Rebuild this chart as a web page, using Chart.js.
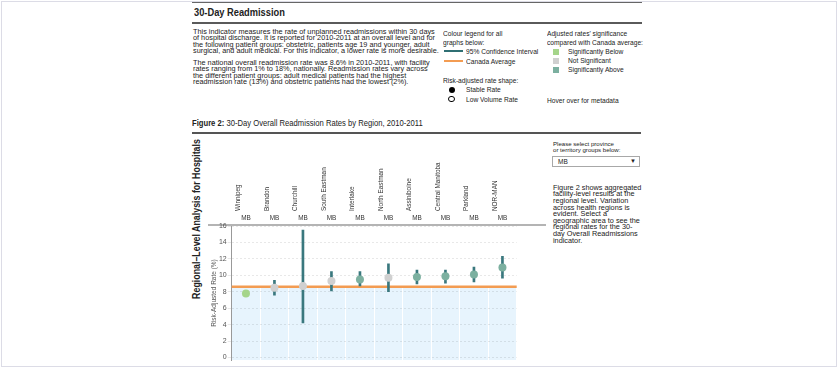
<!DOCTYPE html>
<html>
<head>
<meta charset="utf-8">
<script src="https://cdn.jsdelivr.net/npm/chart.js@4/dist/chart.umd.min.js"></script>
<style>
	html, body { margin: 0; padding: 0; background: #fff; }
	body { width: 838px; height: 368px; position: relative; overflow: hidden;
		font-family: "Liberation Sans", Arial, sans-serif; color: #222; }
	.abs { position: absolute; white-space: pre; }
	/* no Arial Narrow here, so squeeze Liberation Sans instead */
	.narrow { transform: scaleX(0.83); transform-origin: left top; }
	.rule { position: absolute; }
	.body { font-size: 7.3px; line-height: 6.45px; }
	.leg { font-size: 8px; line-height: 9.2px; }
	.swatch { position: absolute; width: 6px; height: 6px; }
	#chartBox { position: absolute; left: 200px; top: 130px; width: 345px; height: 236px; }
</style>
</head>
<body>

<div class="rule" style="left:1px;top:1px;width:834px;height:364px;border:1px solid #dcdce6;"></div>
<div class="rule" style="left:192px;top:2px;width:450px;height:1px;background:#666;"></div>

<div class="abs narrow" style="left:194px;top:6px;font-size:11.2px;line-height:13px;font-weight:bold;">30-Day Readmission</div>
<div class="rule" style="left:192px;top:22px;width:450px;height:2px;background:#5a5a5a;"></div>

<div class="abs body" style="left:193px;top:28.8px;">This indicator measures the rate of unplanned readmissions within 30 days
of hospital discharge. It is reported for 2010-2011 at an overall level and for
the following patient groups: obstetric, patients age 19 and younger, adult
surgical, and adult medical. For this indicator, a lower rate is more desirable.</div>

<div class="abs body" style="left:193px;top:59.8px;">The national overall readmission rate was 8.6% in 2010-2011, with facility
rates ranging from 1% to 18%, nationally. Readmission rates vary across
the different patient groups: adult medical patients had the highest
readmission rate (13%) and obstetric patients had the lowest (2%).</div>

<!-- colour legend -->
<div class="abs leg narrow" style="left:443px;top:28.7px;">Colour legend for all
graphs below:</div>
<div class="rule" style="left:444px;top:50px;width:19px;height:2px;background:#2f6f73;"></div>
<div class="abs leg narrow" style="left:466px;top:46.9px;">95% Confidence Interval</div>
<div class="rule" style="left:444px;top:60px;width:19px;height:2px;background:#f39c52;"></div>
<div class="abs leg narrow" style="left:466px;top:56.9px;">Canada Average</div>
<div class="abs leg narrow" style="left:443px;top:76.4px;">Risk-adjusted rate shape:</div>
<div class="rule" style="left:449px;top:87px;width:6px;height:6px;border-radius:50%;background:#000;"></div>
<div class="abs leg narrow" style="left:466px;top:85.4px;">Stable Rate</div>
<div class="rule" style="left:448px;top:95.5px;width:4.5px;height:4.5px;border-radius:50%;border:1.6px solid #000;"></div>
<div class="abs leg narrow" style="left:466px;top:94.7px;">Low Volume Rate</div>

<!-- significance legend -->
<div class="abs leg narrow" style="left:547px;top:28.7px;">Adjusted rates' significance
compared with Canada average:</div>
<div class="swatch" style="left:553px;top:49px;background:#a5d58a;"></div>
<div class="abs leg narrow" style="left:568px;top:47.4px;">Significantly Below</div>
<div class="swatch" style="left:553px;top:58px;background:#d0d0d0;"></div>
<div class="abs leg narrow" style="left:568px;top:56.4px;">Not Significant</div>
<div class="swatch" style="left:553px;top:67px;background:#7cb0a0;"></div>
<div class="abs leg narrow" style="left:568px;top:65.4px;">Significantly Above</div>
<div class="abs leg narrow" style="left:547px;top:96.4px;">Hover over for metadata</div>

<!-- figure title -->
<div class="abs" style="left:192px;top:118px;font-size:9px;line-height:10px;transform:scaleX(0.85);transform-origin:left top;"><b>Figure 2:</b> 30-Day Overall Readmission Rates by Region, 2010-2011</div>
<div class="rule" style="left:192px;top:132px;width:449px;height:2px;background:#555;"></div>

<div class="abs" style="left:196px;top:219px;font-size:11.2px;line-height:13px;font-weight:bold;transform:translate(-50%,-50%) rotate(-90deg) scaleX(0.79);">Regional–Level Analysis for Hospitals</div>

<div class="rule" style="left:208px;top:224px;width:338px;height:2px;background:#b4b4b4;"></div>

<!-- right panel -->
<div class="abs" style="left:553px;top:140.5px;font-size:6.1px;line-height:6.2px;">Please select province
or territory groups below:</div>
<div class="rule" style="left:552px;top:156px;width:86px;height:9px;border:1px solid #a8a8a8;"></div>
<div class="abs" style="left:558px;top:157.5px;font-size:6.5px;line-height:8px;">MB</div>
<div class="abs" style="left:630px;top:157px;font-size:6px;line-height:8px;">▼</div>
<div class="abs" style="left:553px;top:184.8px;font-size:7.3px;line-height:6.6px;">Figure 2 shows aggregated
facility-level results at the
regional level. Variation
across health regions is
evident. Select a
geographic area to see the
regional rates for the 30-
day Overall Readmissions
indicator.</div>

<div id="chartBox"><canvas id="diagram" width="345" height="236"></canvas></div>

<script>
const regions = ['Winnipeg', 'Brandon', 'Churchill', 'South Eastman', 'Interlake',
	'North Eastman', 'Assiniboine', 'Central Manitoba', 'Parkland', 'NOR-MAN'];
const provinces = ['MB', 'MB', 'MB', 'MB', 'MB', 'MB', 'MB', 'MB', 'MB', 'MB'];
const rates = [7.8, 8.5, 8.7, 9.3, 9.5, 9.7, 9.8, 9.9, 10.1, 10.95];
const ciLow = [7.6, 7.6, 4.2, 8.1, 8.7, 8.0, 8.95, 9.05, 9.2, 9.65];
const ciHigh = [8.0, 9.4, 15.5, 10.45, 10.45, 11.4, 10.65, 10.65, 11.0, 12.3];
const significance = ['below', 'not', 'not', 'not', 'above', 'not', 'above', 'above', 'above', 'above'];
const canadaAvg = 8.6;

const sigColours = { below: '#a5d58a', not: '#d0d0d0', above: '#7cb0a0' };

// light blue band below the Canada average, then the orange average line
const averageBand = {
	id: 'averageBand',
	beforeDraw(chart) {
		const { ctx, chartArea, scales } = chart;
		const yAvg = scales.y.getPixelForValue(canadaAvg);
		ctx.save();
		ctx.fillStyle = '#e7f4fd';
		ctx.fillRect(chartArea.left, yAvg, chartArea.right - chartArea.left, chartArea.bottom - yAvg);
		ctx.restore();
	},
	beforeDatasetsDraw(chart) {
		const { ctx, chartArea, scales } = chart;
		const yAvg = scales.y.getPixelForValue(canadaAvg);
		ctx.save();
		ctx.strokeStyle = '#f39c52';
		ctx.lineWidth = 2.5;
		ctx.beginPath();
		ctx.moveTo(chartArea.left, yAvg);
		ctx.lineTo(chartArea.right, yAvg);
		ctx.stroke();
		ctx.restore();
	}
};

const small = { family: "'Liberation Sans', Arial, sans-serif", size: 6.4 };

new Chart(document.getElementById('diagram'), {
	type: 'bar',
	data: {
		labels: regions,
		datasets: [{
			type: 'line',
			label: 'Risk-adjusted rate',
			data: rates,
			showLine: false,
			pointRadius: 4,
			pointBorderWidth: 0,
			pointBackgroundColor: significance.map((s) => sigColours[s]),
			order: 1
		}, {
			label: '95% CI',
			data: ciLow.map((lo, i) => [lo, ciHigh[i]]),
			backgroundColor: '#3a787e',
			barThickness: 2,
			order: 2
		}]
	},
	options: {
		responsive: false,
		animation: false,
		devicePixelRatio: 1,
		layout: { padding: { left: 0, right: 28.3, top: 0, bottom: 6 } },
		plugins: { legend: { display: false }, tooltip: { enabled: false } },
		scales: {
			x: {
				position: 'top',
				weight: 1,
				offset: true,
				grid: { color: '#ffffff', offset: true, drawTicks: false },
				border: { display: false },
				ticks: { autoSkip: false, minRotation: 90, maxRotation: 90, padding: 2, color: '#333', font: small },
				afterFit: (scale) => { scale.height = 83; }
			},
			x2: {
				type: 'category',
				labels: provinces,
				position: 'top',
				weight: 0,
				offset: true,
				grid: { display: false, drawTicks: false },
				border: { display: false },
				ticks: { autoSkip: false, maxRotation: 0, padding: 4, color: '#333', font: small },
				afterFit: (scale) => { scale.height = 13; }
			},
			y: {
				min: -0.3,
				max: 16,
				grid: { color: 'rgba(0,0,0,0.09)', tickLength: 4 },
				border: { color: '#999', dash: [2, 2] },
				ticks: { stepSize: 2, includeBounds: false, padding: 1, color: '#555', font: { size: 7 } },
				title: { display: true, text: 'Risk-Adjusted Rate (%)', color: '#555', font: { size: 6.5 }, padding: { top: 10, bottom: 0 } },
				afterFit: (scale) => { scale.width = 31.7; }
			}
		}
	},
	plugins: [averageBand]
});
</script>
</body>
</html>
